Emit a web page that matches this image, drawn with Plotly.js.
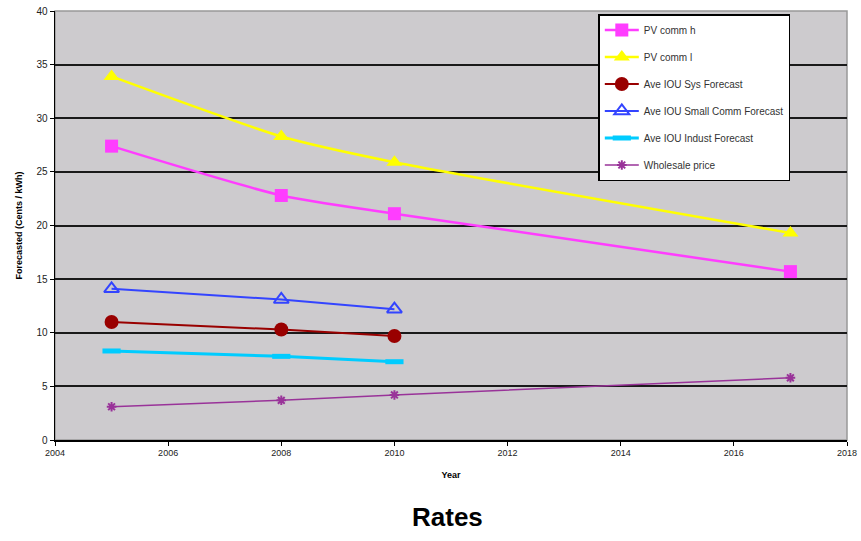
<!DOCTYPE html>
<html>
<head>
<meta charset="utf-8">
<script src="https://cdn.plot.ly/plotly-3.0.1.min.js"></script>
<style>html,body{margin:0;padding:0;background:#fff;}#chart{width:861px;height:541px;}</style>
</head>
<body>
<div id="chart"></div>
<script>
const years = [2005, 2008, 2010, 2017];
const yearsShort = [2005, 2008, 2010];
const pvCommH = [27.4, 22.8, 21.1, 15.7];
const pvCommL = [33.9, 28.3, 25.9, 19.3];
const iouSys = [11.0, 10.3, 9.7];
const iouSmallComm = [14.1, 13.1, 12.2];
const iouIndust = [8.3, 7.8, 7.3];
const wholesale = [3.1, 3.7, 4.2, 5.8];
const seriesNames = ["PV comm h", "PV comm l", "Ave IOU Sys Forecast", "Ave IOU Small Comm Forecast", "Ave IOU Indust Forecast", "Wholesale price"];
const xTicks = [2004, 2006, 2008, 2010, 2012, 2014, 2016, 2018];
const yTicks = [0, 5, 10, 15, 20, 25, 30, 35, 40];

const traces = [
  {x: years, y: pvCommH, name: seriesNames[0], mode: 'lines+markers', line: {color: '#ff3dff', width: 2.5, shape: 'spline', smoothing: 0.6}, marker: {symbol: 'square', size: 13, color: '#ff3dff'}},
  {x: years, y: pvCommL, name: seriesNames[1], mode: 'lines+markers', line: {color: '#ffff00', width: 2.5, shape: 'spline', smoothing: 0.6}, marker: {symbol: 'triangle-up', size: 14, color: '#ffff00'}},
  {x: yearsShort, y: iouSys, name: seriesNames[2], mode: 'lines+markers', line: {color: '#990000', width: 2}, marker: {symbol: 'circle', size: 14, color: '#990000'}},
  {x: yearsShort, y: iouSmallComm, name: seriesNames[3], mode: 'lines+markers', line: {color: '#3344ff', width: 2}, marker: {symbol: 'triangle-up-open', size: 13, color: '#3344ff', line: {width: 2, color: '#3344ff'}}},
  {x: yearsShort, y: iouIndust, name: seriesNames[4], mode: 'lines+markers', line: {color: '#00ccff', width: 3}, marker: {symbol: 'line-ew', size: 13, color: '#00ccff', line: {width: 5, color: '#00ccff'}}},
  {x: years, y: wholesale, name: seriesNames[5], mode: 'lines+markers', line: {color: '#993399', width: 1.5}, marker: {symbol: 'asterisk-open', size: 8, color: '#993399', line: {width: 2, color: '#993399'}}}
];
traces.forEach((t, i) => { t.legendgroup = 'g' + i; });

const layout = {
  width: 861, height: 541,
  margin: {l: 55, r: 14, t: 11, b: 101},
  paper_bgcolor: '#ffffff',
  plot_bgcolor: '#cdcbce',
  font: {family: 'Liberation Sans, Arial, sans-serif', color: '#000', size: 9},
  showlegend: true,
  legend: {
    x: 0.686, y: 0.993, xanchor: 'left', yanchor: 'top',
    bgcolor: '#ffffff', bordercolor: '#000000', borderwidth: 1.5,
    font: {size: 10, family: 'Liberation Sans, Arial, sans-serif', color: '#333'},
    tracegroupgap: 8, itemwidth: 34
  },
  xaxis: {
    range: [2004, 2018], tickvals: xTicks, ticktext: xTicks.map(String),
    showgrid: false, zeroline: false,
    showline: true, linecolor: '#000', linewidth: 1.5,
    ticks: 'outside', ticklen: 4, tickcolor: '#000',
    tickfont: {size: 9, color: '#222'},
    title: {text: '<b>Year</b>', font: {size: 9}, standoff: 14}
  },
  yaxis: {
    range: [0, 40], tickvals: yTicks,
    showgrid: true, gridcolor: '#1a1a1a', gridwidth: 2,
    zeroline: false,
    showline: true, linecolor: '#000', linewidth: 1.5,
    ticks: 'outside', ticklen: 4, tickcolor: '#000',
    tickfont: {size: 10, color: '#222'},
    title: {text: '<b>Forecasted (Cents / kWh)</b>', font: {size: 9}, standoff: 12}
  },
  shapes: [
    {type: 'rect', xref: 'paper', yref: 'paper', x0: 0, x1: 1, y0: 0, y1: 1, line: {color: '#999', width: 1.5}, layer: 'below'}
  ],
  annotations: [
    {text: '<b>Rates</b>', xref: 'paper', yref: 'paper', x: 0.496, y: -0.14, yanchor: 'top', showarrow: false, font: {size: 26, family: 'Liberation Sans, Arial, sans-serif'}}
  ]
};

Plotly.newPlot('chart', traces, layout, {displayModeBar: false, staticPlot: true});
</script>
</body>
</html>
